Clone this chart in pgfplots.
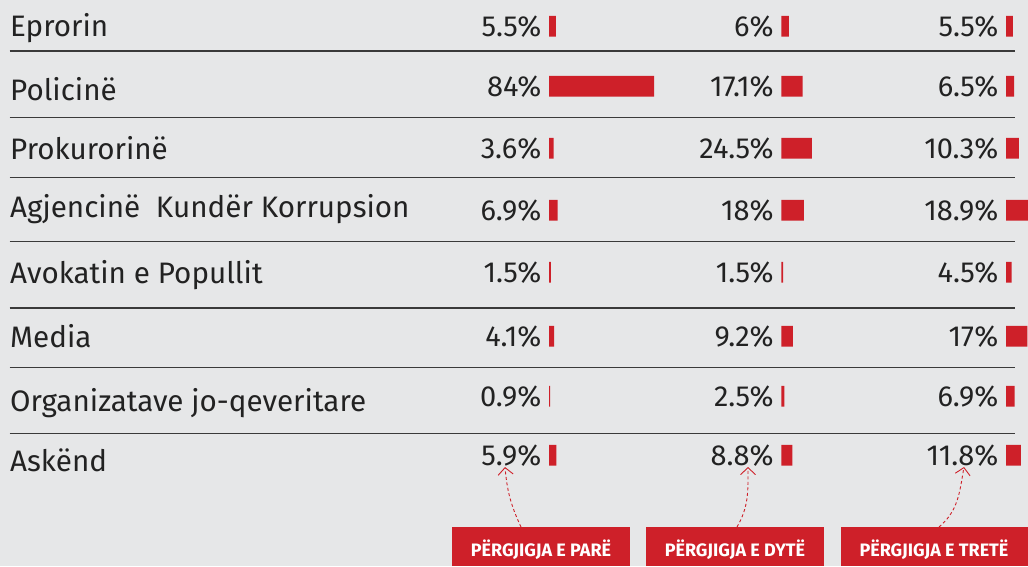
\documentclass[border=0pt]{standalone}
\usepackage{pgfplots}
\usepackage{pgfplotstable}
\pgfplotsset{compat=1.18}
\usepackage{fontspec}
\setmainfont{Fira Sans}
\usetikzlibrary{arrows.meta}
\definecolor{bg}{HTML}{E6E7E8}
\definecolor{barred}{HTML}{CE2029}
\definecolor{txt}{HTML}{222222}
\definecolor{rulec}{HTML}{3A3A3A}

\pgfplotstableread{
y yb a b c
26.3 36.7 5.5 6 5.5
86.3 96.7 84 17.1 6.5
148.3 158.7 3.6 24.5 10.3
210.3 220.7 6.9 18 18.9
272.3 282.7 1.5 1.5 4.5
336.3 346.7 4.1 9.2 17
396.3 406.7 0.9 2.5 6.9
455.3 465.7 5.9 8.8 11.8
}\data

\pgfplotstableread[col sep=comma]{
x,y,lab
10,36,Eprorin
10,100,Policinë
10,159,Prokurorinë
10,217,Agjencinë~ Kundër Korrupsion
10,283,Avokatin e Popullit
10,347,Media
10,411,Organizatave jo-qeveritare
10,471,Askënd
}\cats

\pgfplotsset{
  colax/.style={anchor=south west, scale only axis, width=125pt, height=566pt,
    xmin=0, xmax=100, ymin=0, ymax=566, y dir=reverse, hide axis, clip=false},
  vals/.style={only marks, mark=none, point meta=explicit,
    nodes near coords={\pgfmathprintnumber[assume math mode=true]{\pgfplotspointmeta}\%},
    every node near coord/.append style={anchor=base east, xshift=-7.5pt, inner sep=0pt,
      text=txt, font=\fontsize{29}{34}\selectfont}},
  bars/.style={xbar, bar width=20.7, fill=barred, draw=none}
}

\begin{document}
\begin{tikzpicture}
\fill[bg] (0,0) rectangle (1028pt,566pt);
\begin{axis}[at={(0,0)}, anchor=south west, scale only axis, width=1028pt, height=566pt,
  xmin=0, xmax=1028, ymin=0, ymax=566, y dir=reverse, hide axis, clip=false]
  \addplot[rulec, line width=1.6pt] coordinates {(9.5,50.7) (1015,50.7)};
  \addplot[rulec, line width=1.6pt] coordinates {(9.5,117.3) (1015,117.3)};
  \addplot[rulec, line width=1.6pt] coordinates {(9.5,177.3) (1015,177.3)};
  \addplot[rulec, line width=1.6pt] coordinates {(9.5,241.5) (1015,241.5)};
  \addplot[rulec, line width=1.6pt] coordinates {(9.5,308) (1015,308)};
  \addplot[rulec, line width=1.6pt] coordinates {(9.5,367.5) (1015,367.5)};
  \addplot[rulec, line width=1.6pt] coordinates {(9.5,433.3) (1015,433.3)};
  \addplot[only marks, mark=none, point meta=explicit symbolic, nodes near coords,
    every node near coord/.append style={anchor=base west, inner sep=0pt, text=txt,
      font=\fontsize{29.6}{34}\selectfont}]
    table[x=x, y=y, meta=lab] \cats;
  % answer boxes
  \fill[barred] (axis cs:452,526.7) rectangle (axis cs:630,566);
  \fill[barred] (axis cs:646,526.7) rectangle (axis cs:824,566);
  \fill[barred] (axis cs:841,526.7) rectangle (axis cs:1028,566);
  \node[anchor=base, white, inner sep=0pt, font=\bfseries\fontsize{18}{20}\selectfont] at (axis cs:541,556.7) {PËRGJIGJA E PARË};
  \node[anchor=base, white, inner sep=0pt, font=\bfseries\fontsize{18}{20}\selectfont] at (axis cs:735,556.7) {PËRGJIGJA E DYTË};
  \node[anchor=base, white, inner sep=0pt, font=\bfseries\fontsize{18}{20}\selectfont] at (axis cs:934,556.7) {PËRGJIGJA E TRETË};
  \draw[barred, line width=0.9pt, dash pattern=on 3pt off 2.5pt, -{Straight Barb[length=7pt, width=15pt]}]
    (axis cs:521,527) to[out=115, in=-85] (axis cs:505,467);
  \draw[barred, line width=0.9pt, dash pattern=on 3pt off 2.5pt, -{Straight Barb[length=7pt, width=15pt]}]
    (axis cs:737,527) to[out=60, in=-90] (axis cs:748,467);
  \draw[barred, line width=0.9pt, dash pattern=on 3pt off 2.5pt, -{Straight Barb[length=7pt, width=15pt]}]
    (axis cs:939,527) to[out=40, in=-100] (axis cs:964,467);
\end{axis}
\begin{axis}[colax, at={(549pt,0pt)}]
  \addplot[bars] table[x=a, y=y] \data;
  \addplot[vals] table[x expr=0, y=yb, meta=a] \data;
\end{axis}
\begin{axis}[colax, at={(781.3pt,0pt)}]
  \addplot[bars] table[x=b, y=y] \data;
  \addplot[vals] table[x expr=0, y=yb, meta=b] \data;
\end{axis}
\begin{axis}[colax, at={(1006pt,0pt)}]
  \addplot[bars] table[x=c, y=y] \data;
  \addplot[vals] table[x expr=0, y=yb, meta=c] \data;
\end{axis}
\pgfresetboundingbox
\useasboundingbox (0,0) rectangle (1028pt,566pt);
\end{tikzpicture}
\end{document}
